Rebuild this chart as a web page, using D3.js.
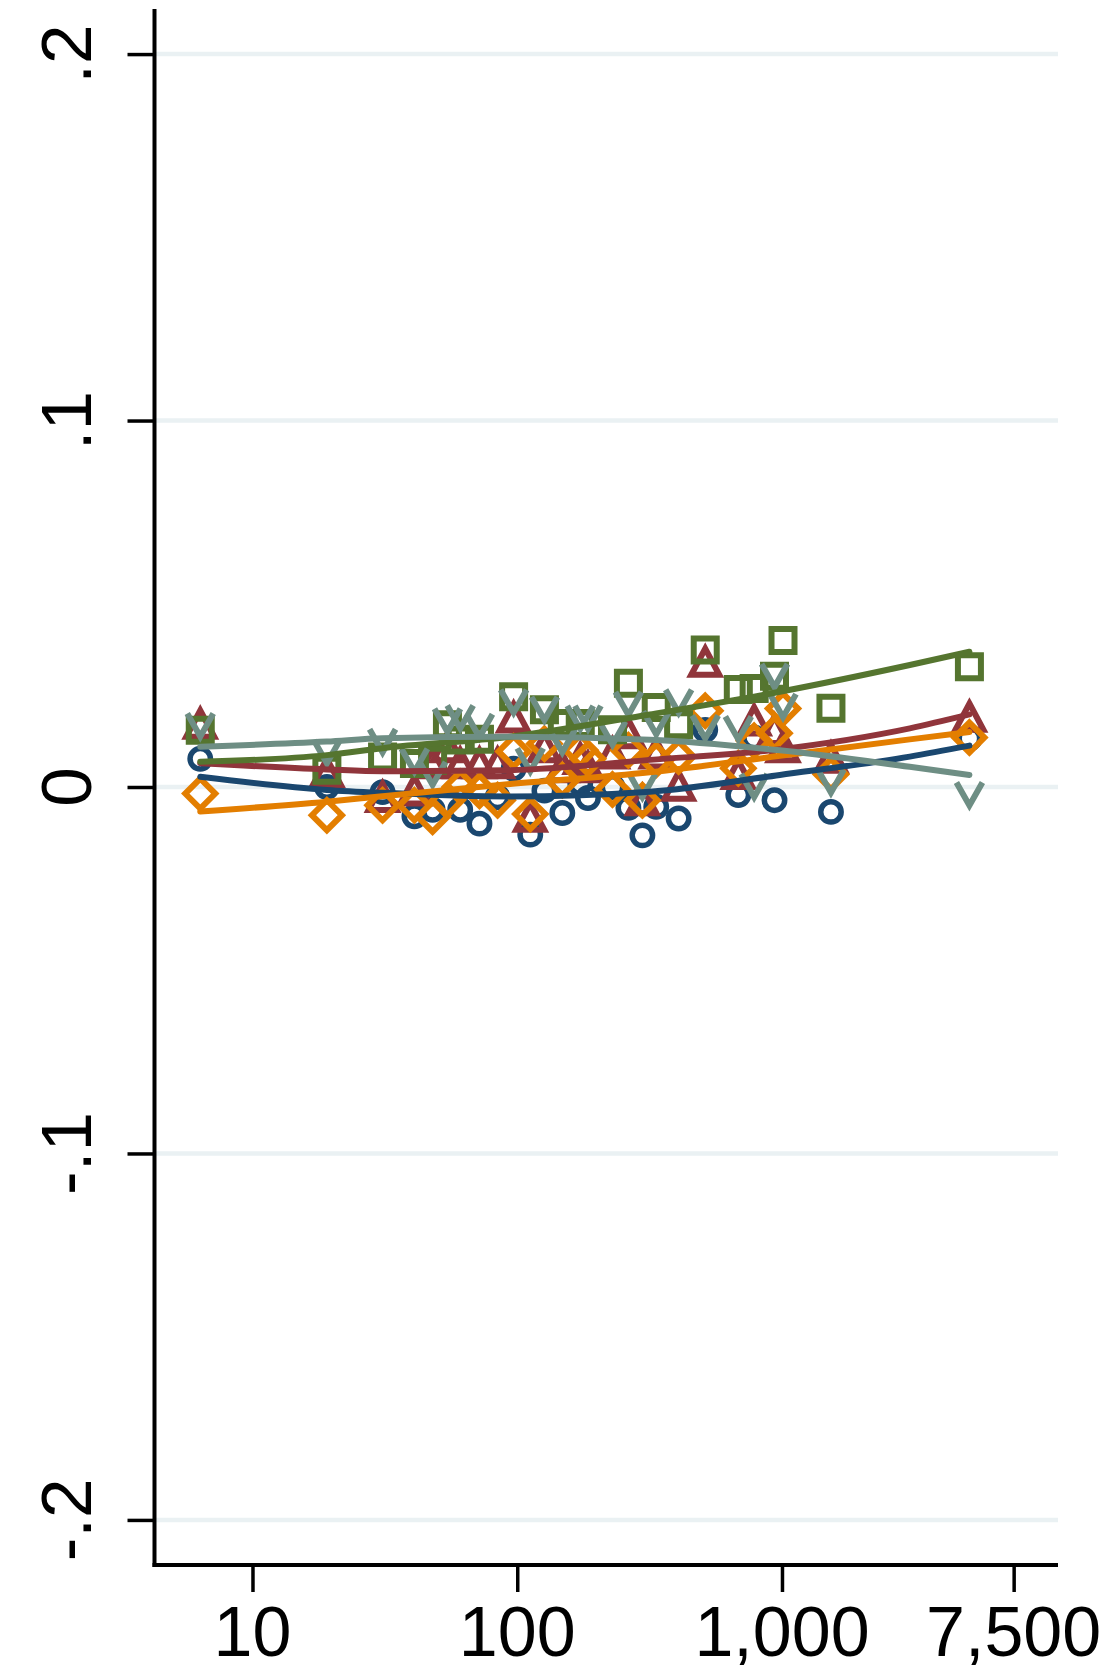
<!DOCTYPE html>
<html>
<head>
<meta charset="utf-8">
<script src="https://cdn.jsdelivr.net/npm/d3@7"></script>
<style>
  html, body { margin: 0; padding: 0; background: #ffffff; }
  svg { display: block; }
</style>
</head>
<body>
<script>
// ---------------- DATA ----------------
const sizeBins = [6.35, 19.1, 31.0, 40.9, 47.9, 54.5, 60.9, 72.0, 84.3, 96.9, 112, 126.7, 148, 173, 185, 229, 263, 297, 335, 407, 513, 684, 785, 937, 1009, 1531, 5105];

const navyValues   = [0.0077, 0.0000, -0.0014, -0.0080, -0.0062, null, -0.0062, -0.0100, -0.0028, 0.0050, -0.0130, -0.0010, -0.0071, 0.0010, -0.0030, 0.0000, -0.0057, -0.0132, -0.0054, -0.0086, 0.0156, -0.0022, 0.0135, -0.0036, null, -0.0068, 0.0132];
const maroonValues = [0.0173, 0.0041, -0.0027, -0.0009, 0.0065, 0.0109, 0.0065, 0.0065, 0.0065, 0.0190, -0.0081, 0.0109, 0.0054, 0.0077, 0.0054, 0.0092, 0.0147, -0.0036, 0.0092, 0.0004, 0.0342, 0.0036, 0.0182, 0.0156, 0.0109, 0.0080, 0.0192];
const orangeValues = [-0.0018, -0.0077, -0.0050, -0.0050, -0.0081, -0.0036, 0.0001, -0.0010, -0.0036, 0.0097, -0.0074, 0.0118, 0.0019, 0.0100, 0.0077, -0.0007, 0.0100, -0.0036, 0.0074, 0.0083, 0.0208, 0.0051, 0.0126, 0.0147, 0.0214, 0.0035, 0.0135];
const greenValues  = [0.0155, 0.0046, 0.0082, 0.0064, 0.0073, 0.0170, 0.0128, 0.0130, null, 0.0246, null, 0.0211, 0.0173, 0.0173, null, 0.0156, 0.0283, null, 0.0217, 0.0170, 0.0374, 0.0266, 0.0269, 0.0302, 0.0400, 0.0215, 0.0328];
const grayValues   = [0.0169, 0.0096, 0.0126, 0.0073, 0.0037, 0.0182, 0.0191, 0.0167, null, 0.0234, 0.0074, 0.0214, 0.0126, 0.0190, 0.0190, 0.0147, 0.0228, 0.0004, 0.0175, 0.0234, 0.0164, 0.0161, 0.0004, 0.0304, 0.0222, 0.0016, -0.0019];

// fitted lines at these sizes
const fitX         = [6.35, 19.1, 31.0, 94, 317, 982, 3040, 5105];
const navyFit      = [0.0028, -0.0008, -0.0016, -0.0026, -0.0013, 0.0033, 0.0083, 0.0113];
const maroonFit    = [0.0065, 0.0048, 0.0043, 0.0046, 0.0074, 0.0103, 0.0160, 0.0198];
const orangeFit    = [-0.0067, -0.0040, -0.0025, 0.0008, 0.0040, 0.0085, 0.0130, 0.0150];
const greenFit     = [0.0069, 0.0087, 0.0106, 0.0137, 0.0198, 0.0260, 0.0333, 0.0369];
const grayFit      = [0.0110, 0.0124, 0.0133, 0.0137, 0.0129, 0.0100, 0.0055, 0.0033];

const xTickValues = [10, 100, 1000, 7500];
const xTickLabels = ["10", "100", "1,000", "7,500"];
const yTickValues = [-0.2, -0.1, 0, 0.1, 0.2];
const yTickLabels = ["-.2", "-.1", "0", ".1", ".2"];

// ---------------- LAYOUT ----------------
const W = 1107, H = 1671;
const plotLeft = 154.5, plotRight = 1058, plotTop = 9, plotBottom = 1565;

const series = [
  { name: "navy",   color: "#1a476f", symbol: "circle",   values: navyValues,   fit: navyFit },
  { name: "maroon", color: "#90353b", symbol: "triangle", values: maroonValues, fit: maroonFit },
  { name: "orange", color: "#e37e00", symbol: "diamond",  values: orangeValues, fit: orangeFit },
  { name: "green",  color: "#55752f", symbol: "square",   values: greenValues,  fit: greenFit },
  { name: "gray",   color: "#6e8e84", symbol: "vee",      values: grayValues,   fit: grayFit }
];

const x = d3.scaleLog().domain([4.265, 11030]).range([plotLeft, plotRight]);
const y = d3.scaleLinear().domain([-0.2123, 0.2123]).range([plotBottom, plotTop]);

const svg = d3.select("body").append("svg")
  .attr("width", W).attr("height", H)
  .attr("viewBox", `0 0 ${W} ${H}`)
  .style("font-family", "'Liberation Sans', Arial, Helvetica, sans-serif");

svg.append("rect").attr("width", W).attr("height", H).attr("fill", "#ffffff");

// gridlines
svg.append("g").selectAll("line").data(yTickValues).join("line")
  .attr("x1", plotLeft).attr("x2", plotRight)
  .attr("y1", d => y(d)).attr("y2", d => y(d))
  .attr("stroke", "#eaf1f3").attr("stroke-width", 4.5);

// marker paths
function markerPath(sym) {
  const p = d3.path();
  if (sym === "circle") {
    p.arc(0, 0, 10.2, 0, 2 * Math.PI);
  } else if (sym === "triangle") {
    const s = 28, h = s * Math.sqrt(3) / 2;
    p.moveTo(0, -h / 2 - 1); p.lineTo(s / 2, h / 2 + 1); p.lineTo(-s / 2, h / 2 + 1); p.closePath();
  } else if (sym === "diamond") {
    const r = 15;
    p.moveTo(0, -r); p.lineTo(r, 0); p.lineTo(0, r); p.lineTo(-r, 0); p.closePath();
  } else if (sym === "square") {
    const r = 11.5;
    p.rect(-r, -r, 2 * r, 2 * r);
  } else if (sym === "vee") {
    p.moveTo(-13, -11.5); p.lineTo(0, 11.5); p.lineTo(13, -11.5);
  }
  return p.toString();
}

// scatter markers
const gm = svg.append("g");
series.forEach(s => {
  const pts = sizeBins.map((b, i) => ({ b, v: s.values[i] })).filter(d => d.v !== null);
  gm.append("g").selectAll("path").data(pts).join("path")
    .attr("transform", d => `translate(${x(d.b)},${y(d.v)})`)
    .attr("d", markerPath(s.symbol))
    .attr("fill", "none")
    .attr("stroke", s.color)
    .attr("stroke-width", s.symbol === "circle" ? 5.5 : 6)
    .attr("stroke-linejoin", "miter")
    .attr("stroke-miterlimit", 10);
});

// fitted lines
const line = d3.line().x(d => x(d[0])).y(d => y(d[1])).curve(d3.curveMonotoneX);
const gl = svg.append("g");
series.forEach(s => {
  gl.append("path")
    .attr("d", line(fitX.map((fx, i) => [fx, s.fit[i]])))
    .attr("fill", "none")
    .attr("stroke", s.color)
    .attr("stroke-width", 6)
    .attr("stroke-linecap", "round")
    .attr("stroke-linejoin", "round");
});

// y axis
const yAxis = d3.axisLeft(y).tickValues(yTickValues).tickSize(27).tickPadding(0).tickFormat("");
const gy = svg.append("g").attr("transform", `translate(${plotLeft},0)`).call(yAxis);
gy.select(".domain").remove();
gy.selectAll(".tick line").attr("stroke", "#000").attr("stroke-width", 3.5);
svg.append("line").attr("x1", plotLeft).attr("x2", plotLeft).attr("y1", plotTop).attr("y2", plotBottom + 2)
  .attr("stroke", "#000").attr("stroke-width", 4);

svg.append("g").selectAll("text").data(yTickValues).join("text")
  .attr("transform", d => `translate(91,${y(d)}) rotate(-90)`)
  .attr("text-anchor", "middle")
  .attr("font-size", 71)
  .attr("fill", "#000")
  .text((d, i) => yTickLabels[i]);

// x axis
const xAxis = d3.axisBottom(x).tickValues(xTickValues).tickSize(27).tickPadding(0).tickFormat("");
const gx = svg.append("g").attr("transform", `translate(0,${plotBottom})`).call(xAxis);
gx.select(".domain").remove();
gx.selectAll(".tick line").attr("stroke", "#000").attr("stroke-width", 3.5);
svg.append("line").attr("x1", plotLeft - 2).attr("x2", plotRight).attr("y1", plotBottom).attr("y2", plotBottom)
  .attr("stroke", "#000").attr("stroke-width", 4);

svg.append("g").selectAll("text").data(xTickValues).join("text")
  .attr("x", d => x(d)).attr("y", 1656)
  .attr("text-anchor", "middle")
  .attr("font-size", 70)
  .attr("fill", "#000")
  .text((d, i) => xTickLabels[i]);
</script>
</body>
</html>
